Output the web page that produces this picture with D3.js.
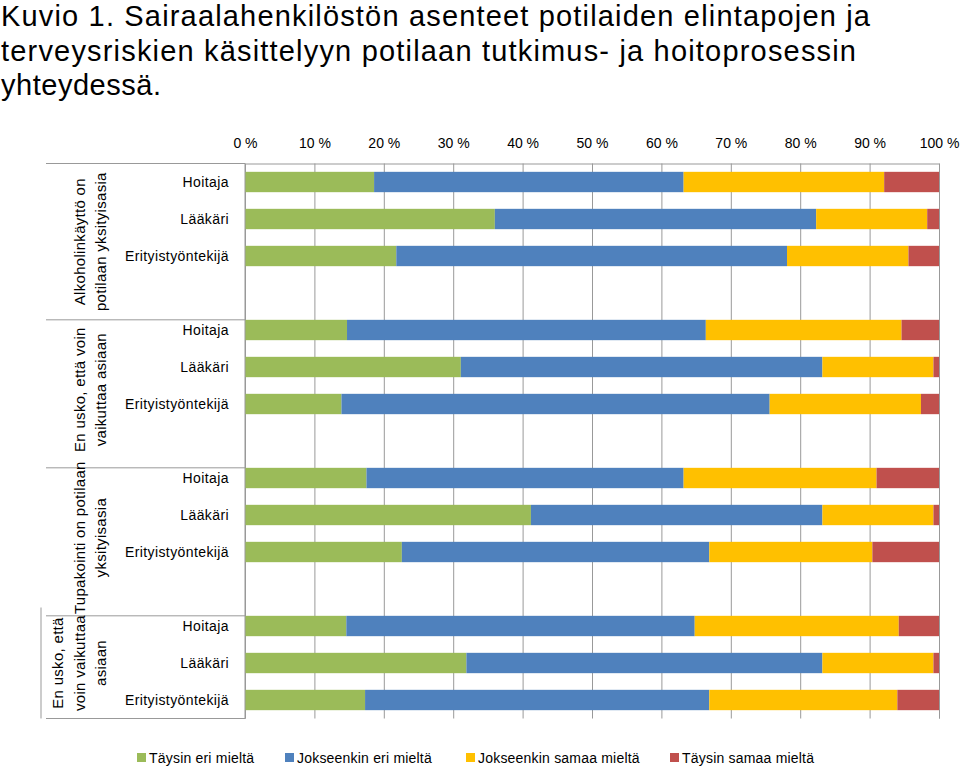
<!DOCTYPE html>
<html>
<head>
<meta charset="utf-8">
<script src="https://cdn.jsdelivr.net/npm/d3@7"></script>
<style>
  body { margin: 0; background: #fff; }
  svg { display: block; font-family: "Liberation Sans", Arial, sans-serif; }
</style>
</head>
<body>
<div id="chart"></div>
<script>
const width = 960;
const height = 768;

const titleLines = [
    "Kuvio 1. Sairaalahenkilöstön asenteet potilaiden elintapojen ja",
    "terveysriskien käsittelyyn potilaan tutkimus- ja hoitoprosessin",
    "yhteydessä."
];
const titleWidths = [869, 855, 160];

const groups = [
    ["Alkoholinkäyttö on", "potilaan yksityisasia"],
    ["En usko, että voin", "vaikuttaa asiaan"],
    ["Tupakointi on potilaan", "yksityisasia"],
    ["En usko, että", "voin vaikuttaa", "asiaan"]
];
const roles = ["Hoitaja", "Lääkäri", "Erityistyöntekijä"];

const seriesNames = ["Täysin eri mieltä", "Jokseenkin eri mieltä", "Jokseenkin samaa mieltä", "Täysin samaa mieltä"];
const seriesColors = ["#9bbb59", "#4f81bd", "#ffc000", "#c0504d"];

// percent values, row order: group by group, Hoitaja / Lääkäri / Erityistyöntekijä
const taysinEri = [18.6, 36.0, 21.8, 14.7, 31.1, 13.9, 17.5, 41.2, 22.6, 14.6, 31.9, 17.3];
const jokseenkinEri = [44.6, 46.3, 56.3, 51.7, 52.1, 61.7, 45.7, 42.0, 44.3, 50.2, 51.3, 49.6];
const jokseenkinSamaa = [28.9, 16.0, 17.5, 28.2, 16.0, 21.8, 27.8, 16.0, 23.5, 29.4, 16.0, 27.1];
const taysinSamaa = [7.9, 1.7, 4.4, 5.4, 0.8, 2.6, 9.0, 0.8, 9.6, 5.8, 0.8, 6.0];

const xTicks = [0, 10, 20, 30, 40, 50, 60, 70, 80, 90, 100];

const plot = { left: 245, right: 939, top: 163.5, bottom: 718.5 };

// build rows, with an empty slot between groups (as in the original)
const rows = [];
const rowKeys = [];
groups.forEach((g, gi) => {
    roles.forEach((r, ri) => {
        const i = gi * 3 + ri;
        const key = gi + "|" + r;
        rows.push({ key, group: gi, role: r, values: [taysinEri[i], jokseenkinEri[i], jokseenkinSamaa[i], taysinSamaa[i]] });
        rowKeys.push(key);
    });
    if (gi < groups.length - 1) rowKeys.push("gap" + gi);
});

const svg = d3.select("#chart").append("svg")
    .attr("width", width)
    .attr("height", height);

// title
svg.append("g")
    .selectAll("text")
    .data(titleLines)
    .join("text")
    .attr("x", 1)
    .attr("y", (d, i) => 26 + i * 34.5)
    .attr("font-size", 29)
    .attr("textLength", (d, i) => titleWidths[i])
    .attr("lengthAdjust", "spacing")
    .attr("fill", "#000")
    .text(d => d);

const x = d3.scaleLinear().domain([0, 100]).range([plot.left, plot.right]);
const y = d3.scaleBand().domain(rowKeys).range([plot.top, plot.bottom])
    .paddingInner(0.45).paddingOuter(0.225);

// gridlines + top axis
const xAxis = svg.append("g")
    .attr("transform", `translate(0,${plot.top})`)
    .call(d3.axisTop(x).tickValues(xTicks).tickFormat(d => d + " %")
        .tickSize(-(plot.bottom - plot.top)).tickPadding(16));
xAxis.select(".domain").attr("stroke", "#999");
xAxis.selectAll(".tick line").attr("stroke", "#999");
xAxis.selectAll(".tick text").attr("font-size", 14).attr("fill", "#000")
    .attr("font-family", "'Liberation Sans', Arial, sans-serif");

// stacked bars
const stack = d3.stack()
    .keys(d3.range(seriesNames.length))
    .value((d, k) => d.values[k]);
const layers = stack(rows);

svg.append("g")
    .selectAll("g")
    .data(layers)
    .join("g")
    .attr("fill", (d, i) => seriesColors[i])
    .selectAll("rect")
    .data(d => d)
    .join("rect")
    .attr("x", d => x(d[0]))
    .attr("width", d => x(d[1]) - x(d[0]))
    .attr("y", d => y(d.data.key))
    .attr("height", y.bandwidth());

// category axis (two levels)
const catG = svg.append("g");
catG.append("line")
    .attr("x1", plot.left).attr("x2", plot.left)
    .attr("y1", plot.top).attr("y2", plot.bottom)
    .attr("stroke", "#999");

catG.selectAll("text.role")
    .data(rows)
    .join("text")
    .attr("class", "role")
    .attr("x", 229)
    .attr("y", d => y(d.key) + y.bandwidth() / 2)
    .attr("dy", "0.35em")
    .attr("text-anchor", "end")
    .attr("font-size", 14)
    .attr("letter-spacing", 0.4)
    .text(d => d.role);

// group separators
const step = y.step();
const groupBounds = groups.map((g, gi) => {
    const first = y(gi + "|" + roles[0]) - y.paddingOuter() * step;
    const last = gi < groups.length - 1 ? y("gap" + gi) + y.bandwidth() + y.paddingInner() * step
        : plot.bottom;
    return [first, last];
});
const sepY = [plot.top].concat(groupBounds.map(b => b[1]));
catG.selectAll("line.sep")
    .data(sepY)
    .join("line")
    .attr("class", "sep")
    .attr("x1", 46).attr("x2", plot.left)
    .attr("y1", d => d).attr("y2", d => d)
    .attr("stroke", "#999");
catG.append("line")
    .attr("x1", 41).attr("x2", 41)
    .attr("y1", groupBounds[3][0]).attr("y2", groupBounds[3][1])
    .attr("stroke", "#999");

// rotated group labels
groups.forEach((g, gi) => {
    const cy = (groupBounds[gi][0] + groupBounds[gi][1]) / 2;
    const lineGap = 21.5;
    const cx0 = 79 + (3 - g.length) * lineGap / 2 - (g.length - 1) * lineGap / 2;
    const gl = catG.append("g");
    g.forEach((line, li) => {
        const cx = cx0 + li * lineGap;
        gl.append("text")
            .attr("transform", `translate(${cx + 5.5},${cy}) rotate(-90)`)
            .attr("text-anchor", "middle")
            .attr("font-size", 15)
            .attr("letter-spacing", 0.3)
            .text(line);
    });
});

// legend
const legendX = [137, 285, 466, 670];
const legend = svg.append("g")
    .selectAll("g")
    .data(seriesNames)
    .join("g")
    .attr("transform", (d, i) => `translate(${legendX[i]},758)`);
legend.append("rect")
    .attr("x", 0).attr("y", -5)
    .attr("width", 9).attr("height", 9)
    .attr("fill", (d, i) => seriesColors[i]);
legend.append("text")
    .attr("x", 12)
    .attr("dy", "0.35em")
    .attr("font-size", 14)
    .attr("letter-spacing", 0.2)
    .text(d => d);
</script>
</body>
</html>
